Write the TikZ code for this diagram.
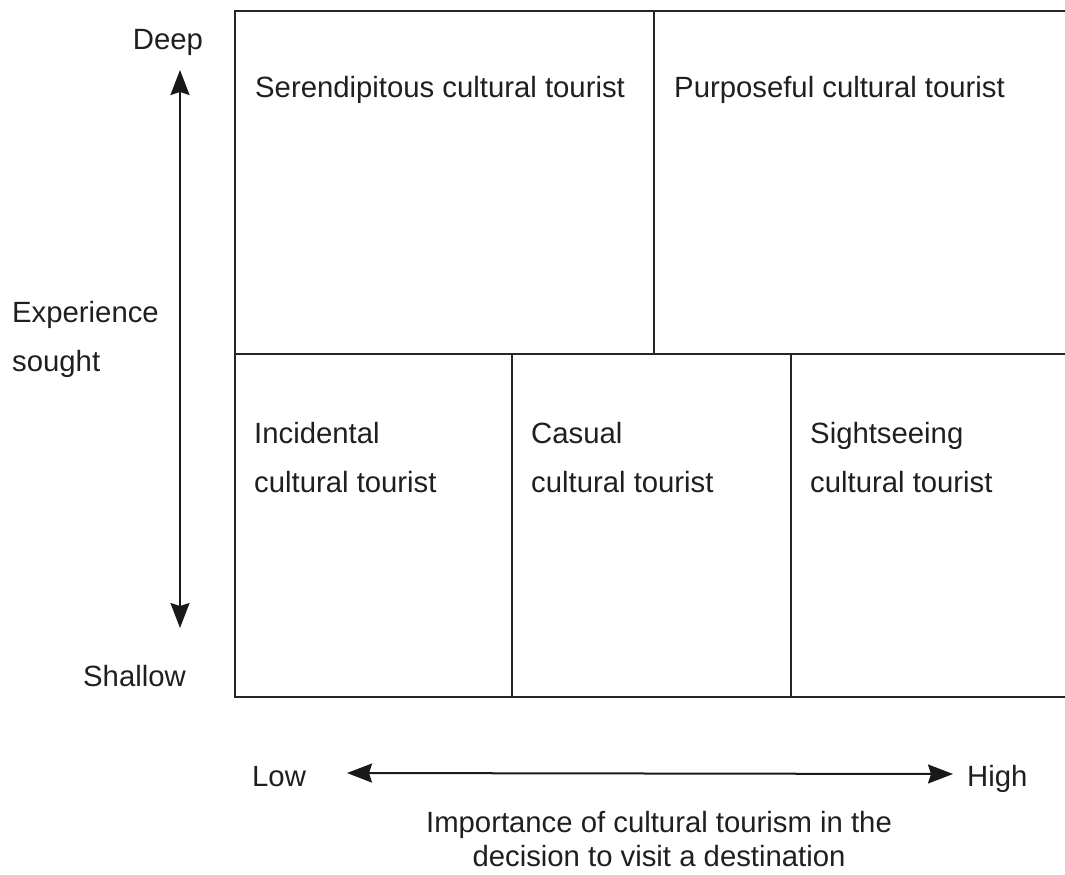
\documentclass[tikz,border=0pt]{standalone}
\usepackage{fontspec}
\setmainfont{Liberation Sans}
\usetikzlibrary{arrows.meta}
\begin{document}
\begin{tikzpicture}[x=1pt,y=-1pt,
  grid/.style={line width=2.8pt, draw=black!85},
  axis/.style={line width=2pt, draw=black!90,
    {Stealth[length=25pt,width=19pt,inset=3pt]}-{Stealth[length=25pt,width=19pt,inset=3pt]}},
  lbl/.style={inner sep=0pt, anchor=base west, font=\fontsize{29.3}{49}\selectfont, text=black!88},
  ctr/.style={inner sep=0pt, anchor=base, font=\fontsize{29.3}{34}\selectfont, text=black!88, align=center}]
\useasboundingbox (0,0) rectangle (1065,875);

% frame and cell boundaries
\coordinate (tl) at (235,11);
\coordinate (tr) at (1066,11);
\coordinate (ml) at (235,354);
\coordinate (mr) at (1066,354);
\coordinate (bl) at (235,697);
\coordinate (br) at (1066,697);
\draw[grid] (tr) -- (tl) -- (bl) -- (br);
\draw[grid] (ml) -- (mr);
\draw[grid] (654,11) -- (654,354);
\draw[grid] (512,354) -- (512,697);
\draw[grid] (791,354) -- (791,697);

% cell labels (two-line nodes are placed by their last baseline)
\node[lbl] (ser) at (255,97) {Serendipitous cultural tourist};
\node[lbl] (pur) at (674,97) {Purposeful cultural tourist};
\node[lbl, align=left] (inc) at (254,492) {Incidental\\cultural tourist};
\node[lbl, align=left] (cas) at (531,492) {Casual\\cultural tourist};
\node[lbl, align=left] (sig) at (810,492) {Sightseeing\\cultural tourist};

% vertical axis
\node[lbl, anchor=base] (deep) at (168,50) {Deep};
\node[lbl, anchor=base east] (shallow) at (186,686) {Shallow};
\node[lbl, align=left] (exp) at (12,371) {Experience\\sought};
\coordinate (vtop) at (180,70);
\coordinate (vbot) at (180,628);
\draw[axis] (vtop) -- (vbot);

% horizontal axis
\node[lbl] (low) at (252,786) {Low};
\node[lbl] (high) at (967,786) {High};
\coordinate (hl) at (347,773);
\coordinate (hr) at (953,774);
\draw[axis] (hl) -- (hr);
\node[ctr] (imp) at (659,866) {Importance of cultural tourism in the\\decision to visit a destination};
\end{tikzpicture}
\end{document}
